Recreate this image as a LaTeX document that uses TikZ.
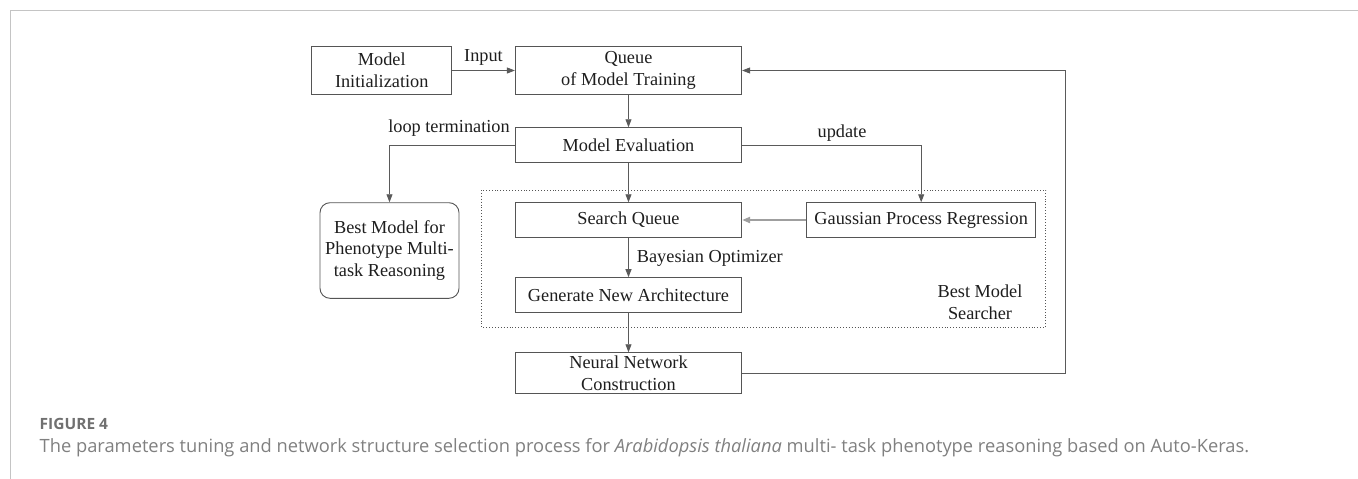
\documentclass[tikz,border=0pt]{standalone}
\usepackage{fontspec}
\setmainfont{Liberation Serif}
\newfontfamily\capfont{Open Sans}
\usetikzlibrary{arrows.meta}

\definecolor{boxline}{HTML}{555555}
\definecolor{wire}{HTML}{5A5A5A}
\definecolor{inkt}{HTML}{1E1E1E}
\definecolor{framegray}{HTML}{C4C4C4}
\definecolor{capgray}{HTML}{808080}
\definecolor{capnumgray}{HTML}{707070}

\tikzset{
  flowbox/.style={draw=boxline, line width=0.9pt, inner sep=0pt, align=center,
    text=inkt, font=\fontsize{18.3}{21.7}\selectfont},
  endbox/.style={flowbox, rounded corners=10pt},
  wirelabel/.style={inner sep=0pt, text=inkt, align=center,
    font=\fontsize{18.3}{21.7}\selectfont},
  arr/.style={draw=wire, line width=0.9pt, -{Triangle[length=8pt,width=6pt]}},
  thickarr/.style={draw=gray!75, line width=2pt, -{Triangle[length=8pt,width=6pt]}},
  groupframe/.style={draw=boxline, line width=0.9pt, dotted},
}

\begin{document}
\begin{tikzpicture}[x=1pt, y=-1pt]
  % page extent and the light L-shaped figure border
  \useasboundingbox (0,0) rectangle (1358,479);
  \draw[framegray, line width=1pt] (10,479) -- (10,10) -- (1358,10);

  % dotted outline of the searcher group
  \draw[groupframe] (481.5,190) rectangle (1045.7,327.3);

  % boxes
  \node[flowbox, minimum width=140pt, minimum height=47.6pt] (init) at (381.75,70.5)
    {Model\\Initialization};
  \node[flowbox, minimum width=226.3pt, minimum height=47.6pt] (queue) at (628.5,70.5)
    {Queue\\of Model Training};
  \node[flowbox, minimum width=226.3pt, minimum height=34.6pt] (eval) at (628.5,145)
    {Model Evaluation};
  \node[flowbox, minimum width=226.3pt, minimum height=34.6pt] (search) at (628.5,220)
    {Search Queue};
  \node[flowbox, minimum width=229pt, minimum height=34.6pt] (gauss) at (921.2,220)
    {Gaussian Process Regression};
  \node[flowbox, minimum width=226.3pt, minimum height=34.3pt] (gen) at (628.5,294.8)
    {Generate New Architecture};
  \node[flowbox, minimum width=226.3pt, minimum height=40.6pt] (neural) at (628.5,373)
    {Neural Network\\Construction};
  \node[endbox, minimum width=139pt, minimum height=95.6pt] (best) at (389.5,250.5)
    {Best Model for\\Phenotype Multi-\\task Reasoning};

  % connectors
  \draw[arr] (init) -- (queue);
  \draw[arr] (queue) -- (eval);
  \draw[arr] (eval.west) -| (best.north);
  \draw[arr] (eval.east) -| (gauss.north);
  \draw[arr] (eval) -- (search);
  \draw[thickarr] (gauss) -- (search);
  \draw[arr] (search) -- (gen);
  \draw[arr] (gen) -- (neural);
  \coordinate (backturn) at (1065.7,70.5);
  \draw[arr] (neural.east) -| (backturn) -- (queue.east);

  % connector and group labels
  \node[wirelabel] (lblinput) at (483.5,57) {Input};
  \node[wirelabel] (lblloop) at (449,128.3) {loop termination};
  \node[wirelabel] (lblupdate) at (842,132.7) {update};
  \node[wirelabel, anchor=west] (lblbayes) at (636.7,258.3) {Bayesian Optimizer};
  \node[wirelabel] (lblsearcher) at (980,302) {Best Model\\Searcher};

  % caption
  \node[anchor=west, inner sep=0pt, text=capnumgray, font=\capfont\bfseries\fontsize{15.5}{18}\selectfont]
    (capnum) at (39.5,423.5) {FIGURE 4};
  \node[anchor=west, inner sep=0pt, text=capgray, font=\capfont\fontsize{18.3}{21}\selectfont]
    (captext) at (39.5,447.5) {The parameters tuning and network structure selection process for \textit{Arabidopsis thaliana} multi- task phenotype reasoning based on Auto-Keras.};
\end{tikzpicture}
\end{document}
